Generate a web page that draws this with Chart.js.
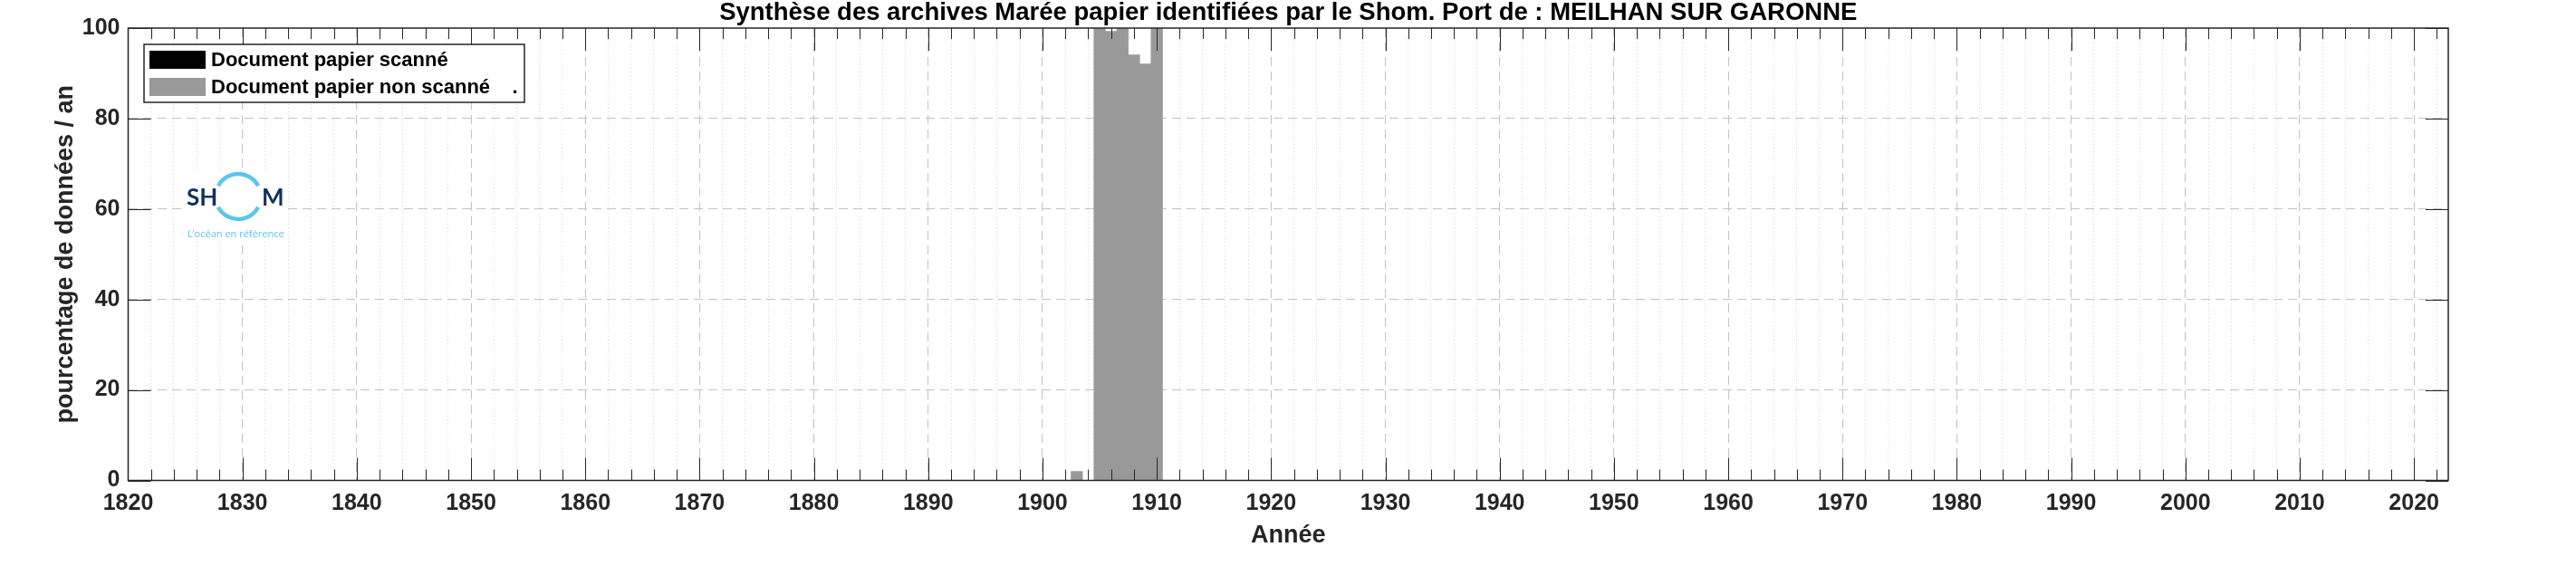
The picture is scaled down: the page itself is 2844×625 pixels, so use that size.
<!DOCTYPE html>
<html>
<head>
<meta charset="utf-8">
<script src="https://cdn.jsdelivr.net/npm/chart.js@4/dist/chart.umd.min.js"></script>
<style>
html, body { margin: 0; padding: 0; background: #fff; }
#wrap { width: 2844px; height: 625px; }
</style>
</head>
<body>
<div id="wrap"><canvas id="chart"></canvas></div>
<script>
// values (percentage of data per year)
const years = [1903, 1904, 1905, 1906, 1907, 1908, 1909, 1910];
const scanned = [0, 0, 0, 0, 0, 0, 0, 0];
const notScanned = [2, 0, 100, 99.3, 100, 94.1, 92.1, 100];
const xTickLabels = [1820, 1830, 1840, 1850, 1860, 1870, 1880, 1890, 1900, 1910,
  1920, 1930, 1940, 1950, 1960, 1970, 1980, 1990, 2000, 2010, 2020];
const yTicks = [0, 20, 40, 60, 80, 100];
const xMin = 1820, xMax = 2023;
const titleText = 'Synthèse des archives Marée papier identifiées par le Shom. Port de : MEILHAN SUR GARONNE';
const seriesLabels = ['Document papier scanné', 'Document papier non scanné    .'];

const FONT = '"Liberation Sans", Arial, Helvetica, sans-serif';
const TXT = '#262626';
const tv = c => (c && c.tick) ? c.tick.value : null;

// MATLAB style box: inward ticks on all four sides, logo, title, legend
const boxPlugin = {
  id: 'box',
  afterDatasetsDraw(chart) {
    const { ctx, chartArea: a, scales: { x, y } } = chart;
    ctx.save();

    // logo
    ctx.fillStyle = '#fff';
    ctx.fillRect(200, 188, 112, 78);
    ctx.fillStyle = '#12325e';
    ctx.font = 'bold 26px Lato, "Open Sans", sans-serif';
    ctx.textBaseline = 'alphabetic';
    ctx.textAlign = 'left';
    ctx.fillText('SH', 206, 227);
    ctx.fillText('M', 289, 227);
    ctx.strokeStyle = '#5bc5ec';
    ctx.lineWidth = 4.5;
    const d = 28 * Math.PI / 180;
    ctx.beginPath();
    ctx.arc(263, 217, 25, Math.PI + d, -d);
    ctx.stroke();
    ctx.beginPath();
    ctx.arc(263, 217, 25, d, Math.PI - d);
    ctx.stroke();
    ctx.fillStyle = '#5bc5ec';
    ctx.font = '11px "Open Sans", sans-serif';
    ctx.fillText('L\u2019océan en référence', 207, 262);

    // ticks
    ctx.strokeStyle = TXT;
    ctx.lineWidth = 1;
    ctx.beginPath();
    x.ticks.forEach(t => {
      if (t.value <= xMin || t.value >= xMax) return;
      const px = Math.round(x.getPixelForValue(t.value)) + 0.5;
      const len = t.value % 10 === 0 ? 25 : 12;
      ctx.moveTo(px, a.bottom); ctx.lineTo(px, a.bottom - len);
      ctx.moveTo(px, a.top); ctx.lineTo(px, a.top + len);
    });
    y.ticks.forEach(t => {
      const py = Math.round(y.getPixelForValue(t.value)) + 0.5;
      ctx.moveTo(a.left, py); ctx.lineTo(a.left + 25, py);
      ctx.moveTo(a.right, py); ctx.lineTo(a.right - 25, py);
    });
    ctx.stroke();

    ctx.lineWidth = 1.5;
    ctx.strokeRect(a.left, a.top, a.right - a.left, a.bottom - a.top);
    ctx.restore();
  },
  afterDraw(chart) {
    const { ctx, chartArea: a } = chart;
    ctx.save();
    // title, centred on the plot box
    ctx.fillStyle = '#000';
    ctx.font = 'bold 27.5px ' + FONT;
    ctx.textAlign = 'center';
    ctx.textBaseline = 'middle';
    ctx.fillText(titleText, (a.left + a.right) / 2, 14);

    // legend
    ctx.fillStyle = '#fff';
    ctx.strokeStyle = TXT;
    ctx.lineWidth = 1.5;
    ctx.fillRect(159, 49, 420, 64);
    ctx.strokeRect(159, 49, 420, 64);
    ctx.font = 'bold 22px ' + FONT;
    ctx.textBaseline = 'middle';
    ctx.textAlign = 'left';
    chart.data.datasets.forEach((ds, i) => {
      const cy = 66 + i * 30;
      ctx.fillStyle = ds.backgroundColor;
      ctx.fillRect(165, cy - 10, 62, 20);
      ctx.fillStyle = '#000';
      ctx.fillText(ds.label, 233, cy + 1);
    });
    ctx.restore();
  }
};

new Chart(document.getElementById('chart'), {
  type: 'bar',
  data: {
    datasets: [
      {
        label: seriesLabels[0],
        data: years.map((yr, i) => ({ x: yr, y: scanned[i] })),
        backgroundColor: '#000000',
        borderWidth: 0
      },
      {
        label: seriesLabels[1],
        data: years.map((yr, i) => ({ x: yr, y: notScanned[i] })),
        backgroundColor: '#999999',
        borderWidth: 0
      }
    ]
  },
  options: {
    responsive: true,
    maintainAspectRatio: false,
    animation: false,
    devicePixelRatio: 1,
    barPercentage: 1,
    categoryPercentage: 1,
    layout: { padding: { left: 0, right: 141, top: 31, bottom: 0 } },
    plugins: {
      legend: { display: false },
      tooltip: { enabled: false },
      title: { display: false }
    },
    scales: {
      x: {
        type: 'linear',
        min: xMin,
        max: xMax,
        offset: false,
        stacked: true,
        afterBuildTicks: s => {
          const t = [];
          for (let v = xMin; v < xMax; v += 2) t.push({ value: v });
          s.ticks = t;
        },
        afterFit: s => { s.height = 94.5; },
        ticks: {
          autoSkip: false,
          maxRotation: 0,
          padding: 11,
          color: TXT,
          font: { family: FONT, size: 25, weight: 'bold' },
          callback: v => xTickLabels.includes(v) ? String(v) : ''
        },
        grid: {
          offset: false,
          drawTicks: false,
          lineWidth: 1,
          color: c => {
            const v = tv(c);
            if (v === null || v === xMin) return 'rgba(0,0,0,0)';
            return v % 10 === 0 ? '#c2c2c2' : '#d8d8d8';
          }
        },
        border: {
          display: false,
          dash: c => {
            const v = tv(c);
            return (v !== null && v % 10 === 0) ? [10, 6] : [1, 3];
          }
        },
        title: {
          display: true,
          text: 'Année',
          color: TXT,
          font: { family: FONT, size: 27, weight: 'bold' },
          padding: { top: 0, bottom: 17 }
        }
      },
      y: {
        min: 0,
        max: 100,
        stacked: true,
        afterBuildTicks: s => { s.ticks = yTicks.map(v => ({ value: v })); },
        afterFit: s => { s.width = 141.5; },
        ticks: {
          padding: 9,
          color: TXT,
          font: { family: FONT, size: 25, weight: 'bold' }
        },
        grid: {
          drawTicks: false,
          lineWidth: 1,
          color: c => {
            const v = tv(c);
            return (v === null || v === 0 || v === 100) ? 'rgba(0,0,0,0)' : '#c2c2c2';
          }
        },
        border: { display: false, dash: [10, 6] },
        title: {
          display: true,
          text: 'pourcentage de données / an',
          color: TXT,
          font: { family: FONT, size: 27, weight: 'bold' },
          padding: { top: 56, bottom: 0 }
        }
      }
    }
  },
  plugins: [boxPlugin]
});
</script>
</body>
</html>
